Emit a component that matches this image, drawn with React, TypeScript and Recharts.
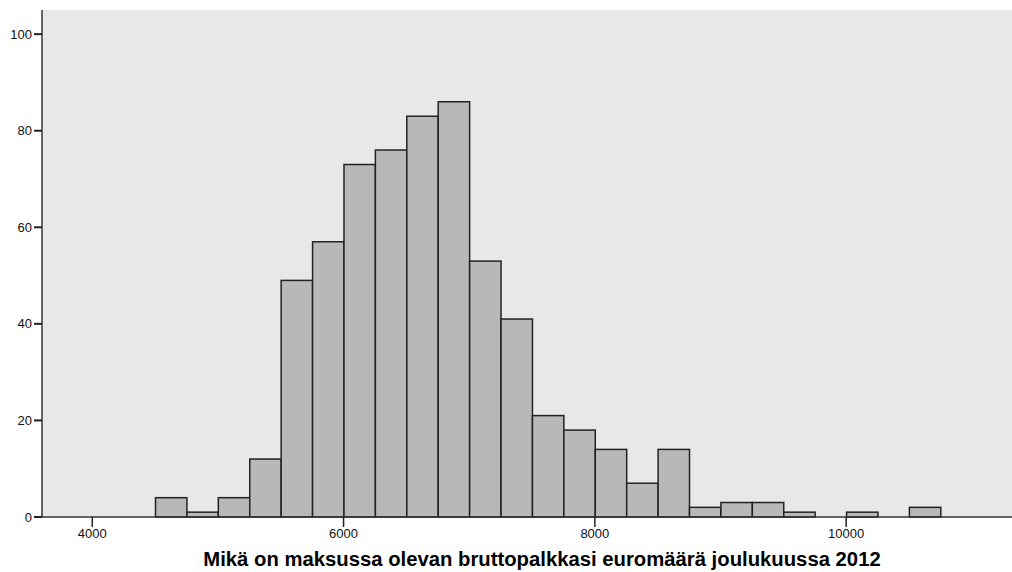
import React from 'react';
import {
  ComposedChart,
  Bar,
  XAxis,
  YAxis,
  CartesianGrid,
} from 'recharts';

// bin start (euro) of each 250-wide bin, and its count
const binStarts = [
  4500, 4750, 5000, 5250, 5500, 5750, 6000, 6250, 6500, 6750, 7000, 7250, 7500,
  7750, 8000, 8250, 8500, 8750, 9000, 9250, 9500, 9750, 10000, 10250, 10500,
];
const counts = [
  4, 1, 4, 12, 49, 57, 73, 76, 83, 86, 53, 41, 21,
  18, 14, 7, 14, 2, 3, 3, 1, 0, 1, 0, 2,
];
const binWidth = 250;

const xTicks = [4000, 6000, 8000, 10000];
const yTicks = [0, 20, 40, 60, 80, 100];
const xTitle = 'Mikä on maksussa olevan bruttopalkkasi euromäärä joulukuussa 2012';

const chartData = binStarts.map((start, i) => ({
  mid: start + binWidth / 2,
  count: counts[i],
}));

const W = 1012;
const H = 572;
const xDomain: [number, number] = [3600, 11320];
const plotLeft = 42;
const plotWidth = W - plotLeft;
const barPx = (binWidth * plotWidth) / (xDomain[1] - xDomain[0]);

const font = 'Liberation Sans, Arial, sans-serif';

// histogram bar: keep recharts' centre and height, widen to the full bin
const BinBar = (props: any) => {
  const { x, y, width, height } = props;
  if (!height || height <= 0) return null;
  const cx = x + width / 2;
  return (
    <rect
      x={cx - barPx / 2}
      y={y}
      width={barPx}
      height={height}
      fill="#b8b8b8"
      stroke="#222"
      strokeWidth={1.5}
    />
  );
};

export default function App() {
  return (
    <div style={{ position: 'absolute', left: 0, top: 0, width: W, height: H, background: '#fff' }}>
      <ComposedChart
        width={W}
        height={H}
        data={chartData}
        margin={{ top: 10, right: 0, bottom: 0, left: 0 }}
        barCategoryGap={0}
        barGap={0}
      >
        <CartesianGrid horizontal={false} vertical={false} fill="#e8e8e8" />
        <XAxis
          xAxisId="top"
          orientation="top"
          type="number"
          dataKey="mid"
          domain={xDomain}
          allowDataOverflow
          tick={false}
          tickLine={false}
          height={0}
          axisLine={{ stroke: '#555', strokeWidth: 1.5 }}
        />
        <XAxis
          type="number"
          dataKey="mid"
          domain={xDomain}
          allowDataOverflow
          ticks={xTicks}
          interval={0}
          height={55}
          tickSize={10}
          tickLine={{ stroke: '#222', strokeWidth: 1.5 }}
          axisLine={{ stroke: '#333', strokeWidth: 1.5 }}
          tick={{ fill: '#111', fontSize: 13, fontFamily: font }}
          label={{
            value: xTitle,
            position: 'insideBottom',
            offset: 6,
            dx: 15,
            style: { fill: '#000', fontSize: 20.3, fontWeight: 'bold', fontFamily: font },
          }}
        />
        <YAxis
          domain={[0, 105]}
          ticks={yTicks}
          interval={0}
          width={plotLeft}
          tickSize={8}
          tickLine={{ stroke: '#222', strokeWidth: 2 }}
          axisLine={{ stroke: '#333', strokeWidth: 1.5 }}
          tick={{ fill: '#111', fontSize: 13, fontFamily: font }}
        />
        <Bar
          dataKey="count"
          barSize={barPx}
          shape={BinBar}
          isAnimationActive={false}
        />
      </ComposedChart>
    </div>
  );
}
